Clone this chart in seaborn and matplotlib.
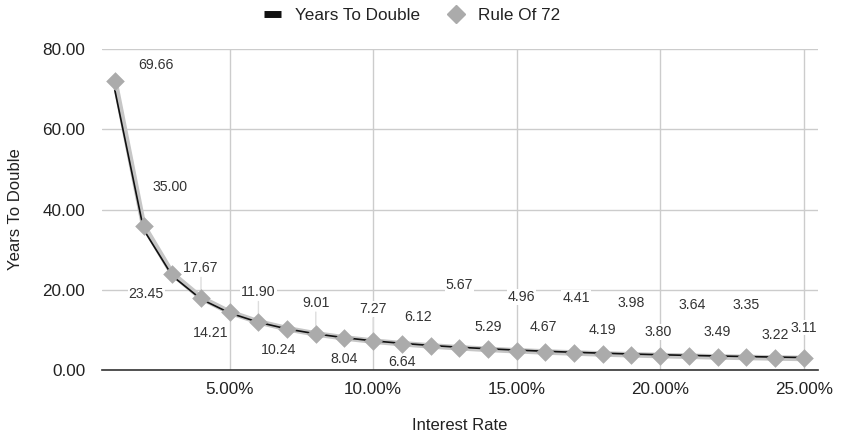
import matplotlib
matplotlib.use("Agg")
import matplotlib.pyplot as plt
import seaborn as sns
import pandas as pd
from matplotlib.lines import Line2D
from matplotlib.ticker import FuncFormatter, FixedLocator

# ---- data ----
interest_rate = [1, 2, 3, 4, 5, 6, 7, 8, 9, 10, 11, 12, 13, 14, 15, 16, 17, 18, 19, 20, 21, 22, 23, 24, 25]
years_to_double = [69.66, 35.00, 23.45, 17.67, 14.21, 11.90, 10.24, 9.01, 8.04, 7.27, 6.64, 6.12, 5.67,
                   5.29, 4.96, 4.67, 4.41, 4.19, 3.98, 3.80, 3.64, 3.49, 3.35, 3.22, 3.11]
rule_of_72 = [72.00, 36.00, 24.00, 18.00, 14.40, 12.00, 10.29, 9.00, 8.00, 7.20, 6.55, 6.00, 5.54,
              5.14, 4.80, 4.50, 4.24, 4.00, 3.79, 3.60, 3.43, 3.27, 3.13, 3.00, 2.88]
x_ticks = [5, 10, 15, 20, 25]
y_ticks = [0, 20, 40, 60, 80]

# label offsets in pixels (dx right, dy down) -- layout only
label_dx = [41, 26, -26, 0, -19, 0, -9, 0, 0, 0, 0, -13, 0, 0, 5, -2, 2, 0, 0, -2, 3, 0, 0, 0, 0]
label_dy = [-25, -43, 18, -31, 20, -30, 21, -31, 21, -32, 19, -28, -62, -22, -53, -24, -54, -23, -51, -23,
            -50, -24, -52, -22, -30]
leader = [3, 5, 7, 9]

df = pd.DataFrame({"rate": interest_rate, "ytd": years_to_double, "r72": rule_of_72})

sns.set_theme(style="white")
plt.rcParams["font.family"] = ["Liberation Sans", "DejaVu Sans"]

W, H = 841, 443
fig = plt.figure(figsize=(W / 100, H / 100), dpi=100)
ax = fig.add_axes([102 / W, (H - 370) / H, (818 - 102) / W, (370 - 49) / H])

grey = "#ababab"
sns.lineplot(data=df, x="rate", y="r72", ax=ax, color="#c6c6c6", linewidth=4, zorder=3, legend=False)
sns.lineplot(data=df, x="rate", y="ytd", ax=ax, color="#111111", linewidth=1.2, zorder=4, legend=False)
sns.scatterplot(data=df, x="rate", y="r72", ax=ax, color=grey, marker="D", s=90, linewidth=0,
                zorder=5, legend=False)

for i, (xv, yv, dx, dy) in enumerate(zip(interest_rate, years_to_double, label_dx, label_dy)):
    kw = {}
    if i in leader:
        kw["arrowprops"] = dict(arrowstyle="-", color="#dddddd", lw=1, shrinkA=1, shrinkB=6)
    ax.annotate(f"{yv:.2f}", (xv, yv), xytext=(dx, -dy), textcoords="offset pixels",
                ha="center", va="center", fontsize=10.2, color="#333333", zorder=2.5,
                bbox=dict(fc="white", ec="none", pad=0.6), **kw)

ax.set_xlim(0.55, 25.5)
ax.set_ylim(0, 80)
ax.xaxis.set_major_locator(FixedLocator(x_ticks))
ax.yaxis.set_major_locator(FixedLocator(y_ticks))
ax.xaxis.set_major_formatter(FuncFormatter(lambda v, p: f"{v:.2f}%"))
ax.yaxis.set_major_formatter(FuncFormatter(lambda v, p: f"{v:.2f}"))
ax.grid(True, color="#cccccc", linewidth=1)
ax.set_axisbelow(True)
for s in ["top", "right", "left"]:
    ax.spines[s].set_visible(False)
ax.spines["bottom"].set_color("#333333")
ax.spines["bottom"].set_linewidth(1.2)
ax.spines["bottom"].set_zorder(2.6)
ax.tick_params(axis="both", length=0, labelsize=12.3, labelcolor="#222222")
ax.tick_params(axis="x", pad=9)
ax.tick_params(axis="y", pad=12)

ax.set_xlabel("Interest Rate", fontsize=12, color="#222222", labelpad=15)
ax.set_ylabel("Years To Double", fontsize=12, color="#222222", labelpad=14)

handles = [
    Line2D([0], [0], color="#111111", linewidth=5, solid_capstyle="butt"),
    Line2D([0], [0], color=grey, marker="D", markersize=9, linewidth=0),
]
fig.legend(handles, ["Years To Double", "Rule Of 72"], loc="center", bbox_to_anchor=(412 / W, 1 - 15 / H),
           ncol=2, frameon=False, fontsize=12.3, handlelength=1.0, handletextpad=0.8, columnspacing=1.6,
           labelcolor="#222222")

fig.savefig("out.png", dpi=100)
